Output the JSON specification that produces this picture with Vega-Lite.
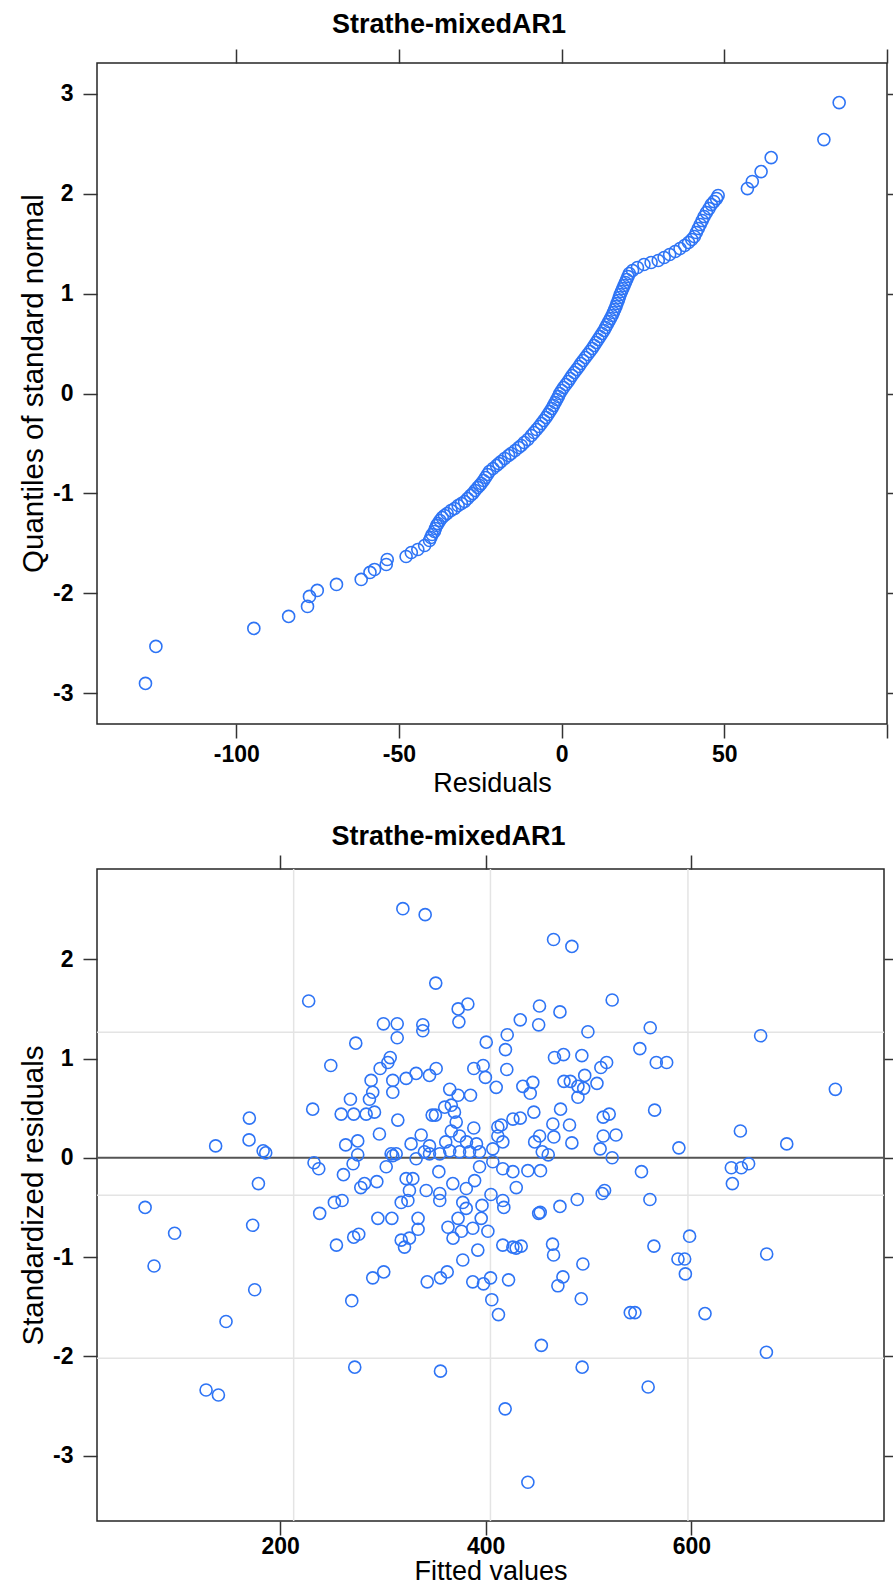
{
  "$schema": "https://vega.github.io/schema/vega-lite/v6.json",
  "padding": {"left": 17, "top": 10, "right": 0, "bottom": 0},
  "spacing": 25,
  "config": {
    "view": {"stroke": "#262626", "strokeWidth": 1.5},
    "font": "Liberation Sans",
    "axis": {"domain": false, "grid": false, "tickColor": "#333333", "tickWidth": 1.5, "tickSize": 14, "labelFont": "Liberation Sans", "labelFontWeight": "bold", "labelFontSize": 23, "labelColor": "#000000", "titleFont": "Liberation Sans", "titleFontWeight": "normal", "titleFontSize": 27, "titleColor": "#000000", "labelPadding": 5, "titlePadding": 4},
    "axisY": {"labelPadding": 10, "titleFontSize": 29.5},
    "title": {"font": "Liberation Sans", "fontSize": 27, "fontWeight": "bold", "color": "#000000"}
  },
  "datasets": {
    "qq": [
      {"resid": -127.9, "q": -2.90}, {"resid": -124.7, "q": -2.53}, {"resid": -94.6, "q": -2.35}, {"resid": -83.9, "q": -2.23},
      {"resid": -78.1, "q": -2.13}, {"resid": -77.5, "q": -2.03}, {"resid": -75.1, "q": -1.97}, {"resid": -69.2, "q": -1.91},
      {"resid": -61.6, "q": -1.86}, {"resid": -58.9, "q": -1.79}, {"resid": -57.5, "q": -1.76}, {"resid": -53.9, "q": -1.71},
      {"resid": -53.6, "q": -1.66}, {"resid": -47.8, "q": -1.63}, {"resid": -46.2, "q": -1.59}, {"resid": -44.2, "q": -1.56},
      {"resid": -42.1, "q": -1.52}, {"resid": -40.6, "q": -1.47}, {"resid": -40.2, "q": -1.44}, {"resid": -39.8, "q": -1.41},
      {"resid": -39.1, "q": -1.38}, {"resid": -38.8, "q": -1.35}, {"resid": -38.4, "q": -1.32}, {"resid": -38.0, "q": -1.30},
      {"resid": -37.4, "q": -1.27}, {"resid": -36.7, "q": -1.24}, {"resid": -36.0, "q": -1.22}, {"resid": -35.2, "q": -1.20},
      {"resid": -34.0, "q": -1.17}, {"resid": -32.9, "q": -1.15}, {"resid": -31.8, "q": -1.12}, {"resid": -30.8, "q": -1.10},
      {"resid": -29.8, "q": -1.08}, {"resid": -28.9, "q": -1.05}, {"resid": -28.0, "q": -1.02}, {"resid": -27.3, "q": -1.00},
      {"resid": -26.6, "q": -0.97}, {"resid": -25.8, "q": -0.94}, {"resid": -25.2, "q": -0.92}, {"resid": -24.7, "q": -0.90},
      {"resid": -24.0, "q": -0.87}, {"resid": -23.4, "q": -0.84}, {"resid": -22.8, "q": -0.81}, {"resid": -22.2, "q": -0.78},
      {"resid": -21.1, "q": -0.75}, {"resid": -20.0, "q": -0.72}, {"resid": -19.3, "q": -0.70}, {"resid": -18.6, "q": -0.68},
      {"resid": -17.5, "q": -0.65}, {"resid": -16.3, "q": -0.62}, {"resid": -15.5, "q": -0.60}, {"resid": -14.3, "q": -0.57},
      {"resid": -13.2, "q": -0.54}, {"resid": -12.4, "q": -0.52}, {"resid": -11.5, "q": -0.49}, {"resid": -10.4, "q": -0.46},
      {"resid": -9.3, "q": -0.42}, {"resid": -8.5, "q": -0.39}, {"resid": -7.7, "q": -0.36}, {"resid": -6.9, "q": -0.33},
      {"resid": -6.2, "q": -0.30}, {"resid": -5.5, "q": -0.27}, {"resid": -4.8, "q": -0.24}, {"resid": -4.2, "q": -0.21},
      {"resid": -3.6, "q": -0.18}, {"resid": -3.0, "q": -0.15}, {"resid": -2.5, "q": -0.12}, {"resid": -2.0, "q": -0.09},
      {"resid": -1.5, "q": -0.06}, {"resid": -1.0, "q": -0.03}, {"resid": -0.6, "q": 0.00}, {"resid": 0.0, "q": 0.03},
      {"resid": 0.6, "q": 0.06}, {"resid": 1.3, "q": 0.09}, {"resid": 2.0, "q": 0.12}, {"resid": 2.6, "q": 0.15},
      {"resid": 3.2, "q": 0.18}, {"resid": 3.9, "q": 0.21}, {"resid": 4.6, "q": 0.24}, {"resid": 5.3, "q": 0.27},
      {"resid": 5.9, "q": 0.30}, {"resid": 6.6, "q": 0.33}, {"resid": 7.3, "q": 0.36}, {"resid": 8.0, "q": 0.39},
      {"resid": 8.7, "q": 0.42}, {"resid": 9.4, "q": 0.45}, {"resid": 10.0, "q": 0.48}, {"resid": 10.6, "q": 0.51},
      {"resid": 11.2, "q": 0.54}, {"resid": 11.8, "q": 0.57}, {"resid": 12.4, "q": 0.60}, {"resid": 13.0, "q": 0.63},
      {"resid": 13.5, "q": 0.66}, {"resid": 14.0, "q": 0.69}, {"resid": 14.5, "q": 0.72}, {"resid": 15.0, "q": 0.75},
      {"resid": 15.5, "q": 0.78}, {"resid": 15.9, "q": 0.81}, {"resid": 16.3, "q": 0.84}, {"resid": 16.7, "q": 0.87},
      {"resid": 17.0, "q": 0.90}, {"resid": 17.4, "q": 0.93}, {"resid": 17.7, "q": 0.96}, {"resid": 18.0, "q": 0.99},
      {"resid": 18.4, "q": 1.02}, {"resid": 18.8, "q": 1.05}, {"resid": 19.2, "q": 1.08}, {"resid": 19.6, "q": 1.11},
      {"resid": 20.0, "q": 1.14}, {"resid": 20.4, "q": 1.17}, {"resid": 20.8, "q": 1.20}, {"resid": 21.8, "q": 1.23},
      {"resid": 23.3, "q": 1.26}, {"resid": 25.3, "q": 1.29}, {"resid": 27.5, "q": 1.31}, {"resid": 29.7, "q": 1.33},
      {"resid": 31.5, "q": 1.36}, {"resid": 33.2, "q": 1.39}, {"resid": 34.9, "q": 1.42}, {"resid": 36.4, "q": 1.45},
      {"resid": 37.8, "q": 1.48}, {"resid": 39.0, "q": 1.51}, {"resid": 40.0, "q": 1.54}, {"resid": 40.8, "q": 1.57},
      {"resid": 41.4, "q": 1.61}, {"resid": 42.0, "q": 1.65}, {"resid": 42.6, "q": 1.69}, {"resid": 43.2, "q": 1.73},
      {"resid": 43.8, "q": 1.77}, {"resid": 44.5, "q": 1.81}, {"resid": 45.3, "q": 1.85}, {"resid": 46.0, "q": 1.89},
      {"resid": 46.8, "q": 1.92}, {"resid": 47.6, "q": 1.95}, {"resid": 48.1, "q": 1.98}, {"resid": 57.1, "q": 2.05},
      {"resid": 58.6, "q": 2.12}, {"resid": 61.3, "q": 2.22}, {"resid": 64.4, "q": 2.36}, {"resid": 80.6, "q": 2.54},
      {"resid": 85.3, "q": 2.91}
    ],
    "fit": [
      {"fitted": 227.8, "res": 1.58}, {"fitted": 273.6, "res": 1.155}, {"fitted": 249.3, "res": 0.93}, {"fitted": 268.4, "res": 0.59},
      {"fitted": 259.4, "res": 0.44}, {"fitted": 271.6, "res": 0.44}, {"fitted": 283.7, "res": 0.44}, {"fitted": 231.7, "res": 0.49},
      {"fitted": 170.1, "res": 0.40}, {"fitted": 169.8, "res": 0.18}, {"fitted": 137.3, "res": 0.12}, {"fitted": 183.5, "res": 0.07},
      {"fitted": 186.0, "res": 0.05}, {"fitted": 263.8, "res": 0.13}, {"fitted": 275.5, "res": 0.17}, {"fitted": 275.5, "res": 0.03},
      {"fitted": 271.0, "res": -0.06}, {"fitted": 233.0, "res": -0.05}, {"fitted": 237.6, "res": -0.11}, {"fitted": 261.6, "res": -0.17},
      {"fitted": 178.9, "res": -0.26}, {"fitted": 278.5, "res": -0.30},
      {"fitted": 319.4, "res": 2.51}, {"fitted": 341.1, "res": 2.45}, {"fitted": 466.0, "res": 2.20}, {"fitted": 483.8, "res": 2.13},
      {"fitted": 351.4, "res": 1.76}, {"fitted": 523.0, "res": 1.59}, {"fitted": 373.2, "res": 1.50}, {"fitted": 382.6, "res": 1.55},
      {"fitted": 373.9, "res": 1.37}, {"fitted": 452.3, "res": 1.53}, {"fitted": 472.2, "res": 1.47}, {"fitted": 433.6, "res": 1.39},
      {"fitted": 451.5, "res": 1.34}, {"fitted": 499.4, "res": 1.27}, {"fitted": 300.5, "res": 1.35}, {"fitted": 313.9, "res": 1.35},
      {"fitted": 313.9, "res": 1.21}, {"fitted": 338.8, "res": 1.34}, {"fitted": 338.8, "res": 1.28}, {"fitted": 400.5, "res": 1.165},
      {"fitted": 420.9, "res": 1.24}, {"fitted": 419.2, "res": 1.09}, {"fitted": 420.5, "res": 0.89}, {"fitted": 466.9, "res": 1.01},
      {"fitted": 475.7, "res": 1.04}, {"fitted": 493.5, "res": 1.03}, {"fitted": 388.4, "res": 0.90}, {"fitted": 397.5, "res": 0.93},
      {"fitted": 399.7, "res": 0.81}, {"fitted": 410.2, "res": 0.71}, {"fitted": 436.1, "res": 0.72}, {"fitted": 445.8, "res": 0.76},
      {"fitted": 443.3, "res": 0.65}, {"fitted": 476.1, "res": 0.77}, {"fitted": 482.3, "res": 0.77}, {"fitted": 489.7, "res": 0.72},
      {"fitted": 496.3, "res": 0.83}, {"fitted": 495.3, "res": 0.70}, {"fitted": 489.7, "res": 0.61}, {"fitted": 508.2, "res": 0.75},
      {"fitted": 512.0, "res": 0.91}, {"fitted": 517.6, "res": 0.96}, {"fitted": 472.8, "res": 0.49}, {"fitted": 446.8, "res": 0.46},
      {"fitted": 433.6, "res": 0.40}, {"fitted": 426.5, "res": 0.39}, {"fitted": 514.3, "res": 0.41}, {"fitted": 520.1, "res": 0.44},
      {"fitted": 514.3, "res": 0.22}, {"fitted": 526.7, "res": 0.23}, {"fitted": 511.3, "res": 0.09}, {"fitted": 523.0, "res": 0.00},
      {"fitted": 481.5, "res": 0.33}, {"fitted": 465.3, "res": 0.34}, {"fitted": 483.8, "res": 0.15}, {"fitted": 466.3, "res": 0.21},
      {"fitted": 452.4, "res": 0.22}, {"fitted": 447.6, "res": 0.16}, {"fitted": 455.0, "res": 0.06}, {"fitted": 460.8, "res": 0.03},
      {"fitted": 453.3, "res": -0.13}, {"fitted": 441.0, "res": -0.13}, {"fitted": 429.7, "res": -0.30}, {"fitted": 411.8, "res": 0.31},
      {"fitted": 415.1, "res": 0.33}, {"fitted": 411.8, "res": 0.22}, {"fitted": 416.6, "res": 0.16}, {"fitted": 406.9, "res": 0.09},
      {"fitted": 394.0, "res": 0.06}, {"fitted": 384.3, "res": 0.06}, {"fitted": 374.6, "res": 0.06}, {"fitted": 406.9, "res": -0.04},
      {"fitted": 416.6, "res": -0.11}, {"fitted": 426.4, "res": -0.14}, {"fitted": 394.0, "res": -0.09}, {"fitted": 389.2, "res": -0.23},
      {"fitted": 381.1, "res": -0.31}, {"fitted": 368.0, "res": -0.26}, {"fitted": 354.4, "res": -0.14}, {"fitted": 342.1, "res": -0.33},
      {"fitted": 329.1, "res": -0.21}, {"fitted": 322.6, "res": -0.21}, {"fitted": 325.8, "res": -0.33}, {"fitted": 303.2, "res": -0.09},
      {"fitted": 309.6, "res": 0.02}, {"fitted": 294.1, "res": -0.24}, {"fitted": 282.1, "res": -0.26},
      {"fitted": 351.8, "res": 0.90}, {"fitted": 345.3, "res": 0.83}, {"fitted": 332.3, "res": 0.85}, {"fitted": 322.6, "res": 0.80},
      {"fitted": 309.6, "res": 0.78}, {"fitted": 309.6, "res": 0.66}, {"fitted": 288.5, "res": 0.78}, {"fitted": 290.1, "res": 0.66},
      {"fitted": 286.9, "res": 0.59}, {"fitted": 291.8, "res": 0.46}, {"fitted": 296.6, "res": 0.24}, {"fitted": 314.5, "res": 0.38},
      {"fitted": 307.1, "res": 1.01}, {"fitted": 304.8, "res": 0.96}, {"fitted": 297.3, "res": 0.90}, {"fitted": 365.0, "res": 0.69},
      {"fitted": 373.1, "res": 0.63}, {"fitted": 385.2, "res": 0.63}, {"fitted": 360.1, "res": 0.51}, {"fitted": 366.5, "res": 0.53},
      {"fitted": 351.1, "res": 0.43}, {"fitted": 347.9, "res": 0.43}, {"fitted": 369.6, "res": 0.46}, {"fitted": 371.3, "res": 0.36},
      {"fitted": 366.5, "res": 0.27}, {"fitted": 374.6, "res": 0.22}, {"fitted": 388.4, "res": 0.30}, {"fitted": 381.3, "res": 0.16},
      {"fitted": 391.0, "res": 0.14}, {"fitted": 337.2, "res": 0.23}, {"fitted": 327.4, "res": 0.14}, {"fitted": 345.3, "res": 0.12},
      {"fitted": 340.4, "res": 0.06}, {"fitted": 361.1, "res": 0.16}, {"fitted": 308.0, "res": 0.04}, {"fitted": 312.9, "res": 0.04},
      {"fitted": 332.3, "res": -0.01}, {"fitted": 345.3, "res": 0.04}, {"fitted": 365.0, "res": 0.07}, {"fitted": 355.3, "res": 0.04},
      {"fitted": 560.0, "res": 1.31}, {"fitted": 549.9, "res": 1.10}, {"fitted": 565.9, "res": 0.96}, {"fitted": 576.0, "res": 0.96},
      {"fitted": 667.4, "res": 1.23}, {"fitted": 740.1, "res": 0.69}, {"fitted": 564.3, "res": 0.48}, {"fitted": 647.7, "res": 0.27},
      {"fitted": 692.8, "res": 0.14}, {"fitted": 587.9, "res": 0.10}, {"fitted": 551.5, "res": -0.14}, {"fitted": 638.9, "res": -0.10},
      {"fitted": 648.6, "res": -0.10}, {"fitted": 655.7, "res": -0.06}, {"fitted": 639.9, "res": -0.26}, {"fitted": 559.7, "res": -0.42},
      {"fitted": 68.7, "res": -0.50}, {"fitted": 97.4, "res": -0.76}, {"fitted": 77.4, "res": -1.09}, {"fitted": 173.3, "res": -0.68},
      {"fitted": 175.3, "res": -1.33}, {"fitted": 147.4, "res": -1.65}, {"fitted": 128.0, "res": -2.34}, {"fitted": 140.0, "res": -2.39},
      {"fitted": 238.5, "res": -0.56}, {"fitted": 252.8, "res": -0.45}, {"fitted": 260.3, "res": -0.43}, {"fitted": 254.8, "res": -0.88},
      {"fitted": 271.6, "res": -0.80}, {"fitted": 276.5, "res": -0.77}, {"fitted": 269.7, "res": -1.44}, {"fitted": 272.6, "res": -2.11},
      {"fitted": 295.1, "res": -0.61}, {"fitted": 308.7, "res": -0.61}, {"fitted": 317.8, "res": -0.45}, {"fitted": 324.3, "res": -0.43},
      {"fitted": 334.2, "res": -0.61}, {"fitted": 334.2, "res": -0.72}, {"fitted": 317.8, "res": -0.83}, {"fitted": 325.8, "res": -0.81},
      {"fitted": 321.0, "res": -0.90}, {"fitted": 290.1, "res": -1.21}, {"fitted": 300.8, "res": -1.15}, {"fitted": 343.1, "res": -1.25},
      {"fitted": 356.0, "res": -1.21}, {"fitted": 362.5, "res": -1.15}, {"fitted": 377.7, "res": -1.03}, {"fitted": 392.3, "res": -0.93},
      {"fitted": 387.4, "res": -1.25}, {"fitted": 397.8, "res": -1.27}, {"fitted": 404.7, "res": -1.21}, {"fitted": 405.9, "res": -1.43},
      {"fitted": 412.4, "res": -1.58}, {"fitted": 422.2, "res": -1.23}, {"fitted": 416.6, "res": -0.88}, {"fitted": 426.4, "res": -0.90},
      {"fitted": 434.5, "res": -0.89}, {"fitted": 429.6, "res": -0.91}, {"fitted": 402.1, "res": -0.74}, {"fitted": 395.6, "res": -0.61},
      {"fitted": 387.4, "res": -0.71}, {"fitted": 373.1, "res": -0.61}, {"fitted": 376.4, "res": -0.74}, {"fitted": 368.2, "res": -0.81},
      {"fitted": 363.3, "res": -0.70}, {"fitted": 377.7, "res": -0.45}, {"fitted": 381.0, "res": -0.51}, {"fitted": 355.3, "res": -0.43},
      {"fitted": 355.3, "res": -0.36}, {"fitted": 396.4, "res": -0.48}, {"fitted": 405.1, "res": -0.37}, {"fitted": 416.6, "res": -0.43},
      {"fitted": 417.6, "res": -0.50}, {"fitted": 451.5, "res": -0.56}, {"fitted": 453.0, "res": -0.55}, {"fitted": 472.2, "res": -0.49},
      {"fitted": 489.0, "res": -0.42}, {"fitted": 465.0, "res": -0.87}, {"fitted": 466.0, "res": -0.98}, {"fitted": 494.5, "res": -1.07},
      {"fitted": 475.1, "res": -1.20}, {"fitted": 470.2, "res": -1.29}, {"fitted": 492.9, "res": -1.42}, {"fitted": 540.6, "res": -1.56},
      {"fitted": 454.1, "res": -1.89}, {"fitted": 493.8, "res": -2.11}, {"fitted": 356.0, "res": -2.15}, {"fitted": 418.9, "res": -2.53},
      {"fitted": 441.0, "res": -3.27}, {"fitted": 513.3, "res": -0.36}, {"fitted": 515.6, "res": -0.33},
      {"fitted": 598.3, "res": -0.79}, {"fitted": 563.6, "res": -0.89}, {"fitted": 587.0, "res": -1.02}, {"fitted": 593.5, "res": -1.02},
      {"fitted": 594.2, "res": -1.17}, {"fitted": 673.3, "res": -0.97}, {"fitted": 545.1, "res": -1.56}, {"fitted": 613.3, "res": -1.57},
      {"fitted": 673.0, "res": -1.96}, {"fitted": 558.0, "res": -2.31}
    ],
    "gridx": [{"v": 213.2}, {"v": 404.6}, {"v": 596.7}],
    "gridy": [{"v": 1.266}, {"v": -0.377}, {"v": -2.02}],
    "zero": [{"v": 0}]
  },
  "vconcat": [
    {
      "width": 790,
      "height": 661,
      "title": {"text": "Strathe-mixedAR1", "frame": "group", "anchor": "middle", "dx": -43, "offset": 9},
      "data": {"name": "qq"},
      "layer": [
        {
          "mark": {"type": "point", "shape": "circle", "size": 145, "strokeWidth": 1.6, "color": "#2e74f5", "filled": false, "opacity": 1},
          "encoding": {
            "x": {"field": "resid", "type": "quantitative", "scale": {"domain": [-142.8, 100], "nice": false, "zero": false},
                  "axis": {"orient": "bottom", "values": [-100, -50, 0, 50, 100], "labelExpr": "datum.value == 100 ? '' : toString(datum.value)", "title": "Residuals"}},
            "y": {"field": "q", "type": "quantitative", "scale": {"domain": [-3.306, 3.306], "nice": false, "zero": false},
                  "axis": {"orient": "left", "values": [-3, -2, -1, 0, 1, 2, 3], "labelExpr": "toString(datum.value)", "title": "Quantiles of standard normal", "titleY": 320}}
          }
        },
        {
          "mark": {"type": "point", "opacity": 0},
          "encoding": {
            "x": {"field": "resid", "type": "quantitative", "scale": {"domain": [-142.8, 100], "nice": false, "zero": false},
                  "axis": {"orient": "top", "values": [-100, -50, 0, 50, 100], "labels": false, "title": null}},
            "y": {"field": "q", "type": "quantitative", "scale": {"domain": [-3.306, 3.306], "nice": false, "zero": false},
                  "axis": {"orient": "right", "values": [-3, -2, -1, 0, 1, 2, 3], "labels": false, "title": null}}
          }
        }
      ],
      "resolve": {"axis": {"x": "independent", "y": "independent"}}
    },
    {
      "width": 787,
      "height": 652,
      "title": {"text": "Strathe-mixedAR1", "frame": "group", "anchor": "middle", "dx": -42, "offset": 3},
      "layer": [
        {
          "data": {"name": "gridx"},
          "mark": {"type": "rule", "color": "#e4e4e4", "strokeWidth": 1.5},
          "encoding": {"x": {"field": "v", "type": "quantitative", "scale": {"domain": [21.9, 787.4], "nice": false, "zero": false}, "axis": null}}
        },
        {
          "data": {"name": "gridy"},
          "mark": {"type": "rule", "color": "#e4e4e4", "strokeWidth": 1.5},
          "encoding": {"y": {"field": "v", "type": "quantitative", "scale": {"domain": [-3.66, 2.91], "nice": false, "zero": false}, "axis": null}}
        },
        {
          "data": {"name": "zero"},
          "mark": {"type": "rule", "color": "#555555", "strokeWidth": 2},
          "encoding": {"y": {"field": "v", "type": "quantitative", "scale": {"domain": [-3.66, 2.91], "nice": false, "zero": false}, "axis": null}}
        },
        {
          "data": {"name": "fit"},
          "mark": {"type": "point", "shape": "circle", "size": 145, "strokeWidth": 1.6, "color": "#2e74f5", "filled": false, "opacity": 1},
          "encoding": {
            "x": {"field": "fitted", "type": "quantitative", "scale": {"domain": [21.9, 787.4], "nice": false, "zero": false},
                  "axis": {"orient": "bottom", "values": [200, 400, 600], "title": "Fitted values", "labelPadding": 0, "titlePadding": 0}},
            "y": {"field": "res", "type": "quantitative", "scale": {"domain": [-3.66, 2.91], "nice": false, "zero": false},
                  "axis": {"orient": "left", "values": [-3, -2, -1, 0, 1, 2], "labelExpr": "toString(datum.value)", "title": "Standardized residuals"}}
          }
        },
        {
          "data": {"name": "fit"},
          "mark": {"type": "point", "opacity": 0},
          "encoding": {
            "x": {"field": "fitted", "type": "quantitative", "scale": {"domain": [21.9, 787.4], "nice": false, "zero": false},
                  "axis": {"orient": "top", "values": [200, 400, 600], "labels": false, "title": null}},
            "y": {"field": "res", "type": "quantitative", "scale": {"domain": [-3.66, 2.91], "nice": false, "zero": false},
                  "axis": {"orient": "right", "values": [-3, -2, -1, 0, 1, 2], "labels": false, "title": null}}
          }
        }
      ],
      "resolve": {"axis": {"x": "independent", "y": "independent"}}
    }
  ]
}
